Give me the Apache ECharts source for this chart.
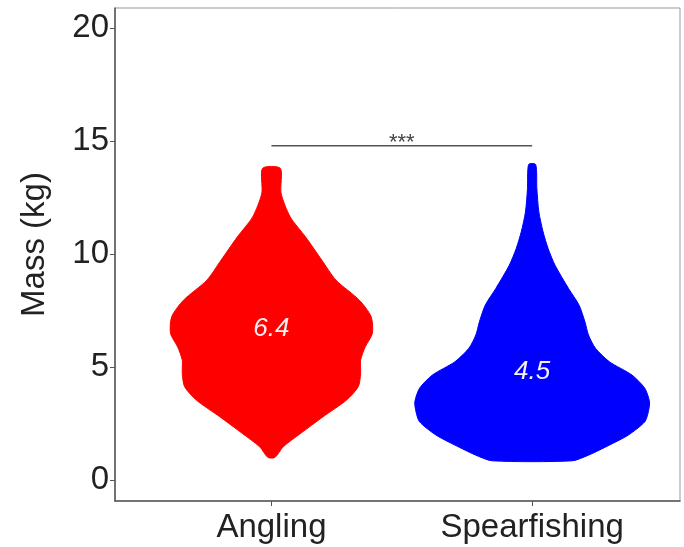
<!DOCTYPE html>
<html>
<head>
<meta charset="utf-8">
<script src="https://cdn.jsdelivr.net/npm/echarts@6/dist/echarts.min.js"></script>
<style>
  html, body { margin: 0; padding: 0; background: #fff; }
  #main { width: 684px; height: 547px; }
</style>
</head>
<body>
<div id="main"></div>
<script>
// 数据
var categories = ['Angling', 'Spearfishing'];
var means = [6.4, 4.5];
var colors = ['#ff0000', '#0000ff'];

// 小提琴轮廓：质量(kg) 与 相对密度
var anglingMass = [13.8, 12.7, 11.65, 10.77, 9.73, 8.85, 7.96, 7.23, 6.49, 5.9, 5.31, 4.72, 4.13, 3.54, 2.8, 2.07, 1.47, 1.0];
var anglingDens = [0.076, 0.082, 0.16, 0.29, 0.43, 0.55, 0.75, 0.85, 0.86, 0.80, 0.76, 0.76, 0.74, 0.64, 0.44, 0.25, 0.10, 0.03];
var spearMass = [13.97, 12.9, 11.87, 10.99, 10.25, 9.51, 8.48, 7.74, 7.0, 6.42, 5.83, 5.23, 4.65, 4.06, 3.46, 3.02, 2.58, 1.99, 1.55, 1.1, 0.85];
var spearDens = [0.03, 0.04, 0.057, 0.093, 0.136, 0.195, 0.31, 0.40, 0.45, 0.48, 0.54, 0.66, 0.85, 0.96, 1.0, 0.99, 0.96, 0.82, 0.66, 0.48, 0.34];

var yTicks = [0, 5, 10, 15, 20];
var sigLabel = '***';
var sigY = 14.8;

var violinMass = [anglingMass, spearMass];
var violinDens = [anglingDens, spearDens];
var halfWidth = 0.45; // 最大半宽(x轴单位)

var chart = echarts.init(document.getElementById('main'));
var fontFam = '"Liberation Sans", Arial, sans-serif';

function renderViolin(params, api) {
	var i = api.value(0);
	var pos = i + 1;
	var ms = violinMass[i], ds = violinDens[i];
	var right = [], left = [];
	for (var k = 0; k < ms.length; k++) {
		right.push(api.coord([pos + ds[k] * halfWidth, ms[k]]));
		left.push(api.coord([pos - ds[k] * halfWidth, ms[k]]));
	}
	var pts = right.concat(left.reverse());
	var c = api.coord([pos, means[i]]);
	return {
		type: 'group',
		children: [
			{
				type: 'polygon',
				shape: { points: pts, smooth: 0.25 },
				style: { fill: colors[i], stroke: colors[i], lineWidth: 1 }
			},
			{
				type: 'text',
				x: c[0],
				y: c[1] + 6,
				style: {
					text: means[i].toFixed(1),
					fill: '#f4f0f4',
					font: 'italic 26px ' + fontFam,
					align: 'center',
					verticalAlign: 'bottom'
				}
			}
		]
	};
}

function renderSig(params, api) {
	var a = api.coord([1, sigY]);
	var b = api.coord([2, sigY]);
	return {
		type: 'group',
		children: [
			{
				type: 'line',
				shape: { x1: a[0], y1: a[1], x2: b[0], y2: b[1] },
				style: { stroke: '#555', lineWidth: 1.5 }
			},
			{
				type: 'text',
				x: (a[0] + b[0]) / 2,
				y: a[1] - 3,
				style: {
					text: sigLabel,
					fill: '#444',
					font: '22px ' + fontFam,
					align: 'center',
					verticalAlign: 'middle'
				}
			}
		]
	};
}

var option = {
	animation: false,
	backgroundColor: '#fff',
	grid: {
		left: 115,
		right: 4,
		top: 8,
		bottom: 46,
		show: true,
		borderColor: '#999',
		borderWidth: 1
	},
	xAxis: {
		type: 'value',
		min: 0.4,
		max: 2.567,
		splitLine: { show: false },
		axisLine: { show: true, onZero: false, lineStyle: { color: '#555', width: 1.5 } },
		axisTick: { show: true, customValues: [1, 2], length: 5, lineStyle: { color: '#555' } },
		axisLabel: {
			customValues: [1, 2],
			formatter: function (v) { return categories[Math.round(v) - 1]; },
			color: '#222',
			fontSize: 33,
			fontFamily: fontFam,
			margin: 10
		}
	},
	yAxis: {
		type: 'value',
		min: -0.93,
		max: 20.9,
		name: 'Mass (kg)',
		nameLocation: 'middle',
		nameGap: 64,
		nameTextStyle: { fontSize: 33, color: '#222', fontFamily: fontFam, padding: [0, 0, 0, 20] },
		splitLine: { show: false },
		axisLine: { show: true, onZero: false, lineStyle: { color: '#555', width: 1.5 } },
		axisTick: { show: true, customValues: yTicks, length: 5, lineStyle: { color: '#555' } },
		axisLabel: {
			customValues: yTicks,
			color: '#222',
			fontSize: 33,
			fontFamily: fontFam,
			margin: 6
		}
	},
	series: [
		{
			type: 'custom',
			renderItem: renderViolin,
			data: [[0], [1]],
			encode: { x: 0 },
			clip: true
		},
		{
			type: 'custom',
			renderItem: renderSig,
			data: [[0]],
			encode: { x: 0 }
		}
	]
};
chart.setOption(option);
</script>
</body>
</html>
